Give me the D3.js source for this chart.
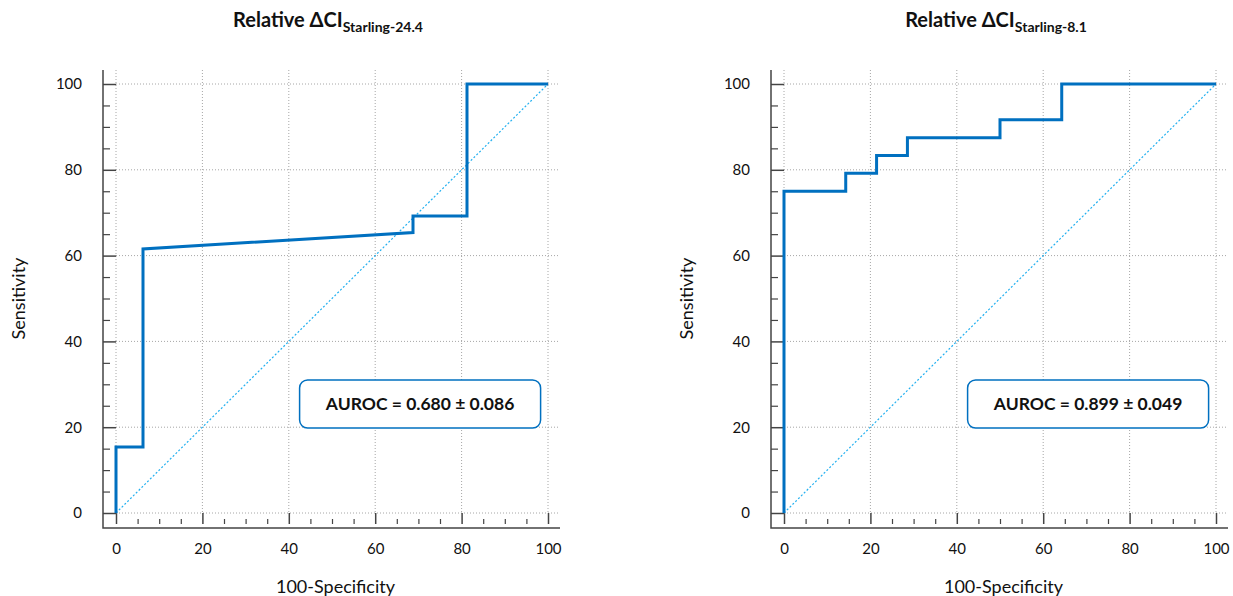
<!DOCTYPE html>
<html>
<head>
<meta charset="utf-8">
<script src="https://cdn.jsdelivr.net/npm/d3@7"></script>
<style>
  body { margin: 0; background: #fff; }
  text { font-family: Lato, "Open Sans", sans-serif; fill: #111; }
</style>
</head>
<body>
<div id="chart"></div>
<script>
// ROC curves (100-Specificity, Sensitivity)
const leftFpr = [0, 0, 6.25, 6.25, 68.75, 68.75, 81.25, 81.25, 100];
const leftTpr = [0, 15.38, 15.38, 61.54, 65.38, 69.23, 69.23, 100, 100];
const rightFpr = [0, 0, 14.29, 14.29, 21.43, 21.43, 28.57, 28.57, 50, 50, 64.29, 64.29, 100];
const rightTpr = [0, 75, 75, 79.17, 79.17, 83.33, 83.33, 87.5, 87.5, 91.67, 91.67, 100, 100];
const titles = ["Starling-24.4", "Starling-8.1"];
const aurocLabels = ["AUROC = 0.680 ± 0.086", "AUROC = 0.899 ± 0.049"];
const majorTicks = [0, 20, 40, 60, 80, 100];
const minorTicks = d3.range(0, 101, 5).filter(d => d % 20 !== 0);

const svgWidth = 1233;
const svgHeight = 596;

const svg = d3.select("#chart")
    .append("svg")
    .attr("width", svgWidth)
    .attr("height", svgHeight);

const blue = "#0070c0";
const gridColor = "#a6a6a6";

function drawRoc(left, fpr, tpr, sub, label) {
    const x = d3.scaleLinear().domain([0, 100]).range([left, left + 432]);
    const y = d3.scaleLinear().domain([0, 100]).range([513, 84]);
    const g = svg.append("g");

    const frameL = x(0) - 13, frameR = x(100) + 12, frameT = 70, frameB = 528;

    // grid
    g.selectAll(".vgrid")
        .data(majorTicks)
        .join("line")
        .attr("x1", d => x(d)).attr("x2", d => x(d))
        .attr("y1", frameT).attr("y2", y(0))
        .attr("stroke", gridColor)
        .attr("stroke-width", 1)
        .attr("stroke-dasharray", "1,2");
    g.selectAll(".hgrid")
        .data(majorTicks)
        .join("line")
        .attr("x1", x(0)).attr("x2", frameR)
        .attr("y1", d => y(d)).attr("y2", d => y(d))
        .attr("stroke", gridColor)
        .attr("stroke-width", 1)
        .attr("stroke-dasharray", "1,2");

    // frame (axis lines)
    g.append("path")
        .attr("d", `M${frameL},${frameT}V${frameB}H${frameR}`)
        .attr("fill", "none")
        .attr("stroke", "#444")
        .attr("stroke-width", 1.5);

    // y axis
    g.append("g")
        .attr("transform", `translate(${x(0)},0)`)
        .call(d3.axisLeft(y).tickValues(majorTicks).tickSize(13).tickPadding(21))
        .call(a => a.select(".domain").remove())
        .call(a => a.selectAll("line").attr("stroke", "#444").attr("stroke-width", 1.5))
        .call(a => a.selectAll("text").attr("font-size", 15).attr("fill", "#111")
            .style("font-family", "Lato, sans-serif"));
    g.append("g")
        .attr("transform", `translate(${frameL + 7},0)`)
        .call(d3.axisLeft(y).tickValues(minorTicks).tickSize(7).tickFormat(""))
        .call(a => a.select(".domain").remove())
        .call(a => a.selectAll("line").attr("stroke", "#444").attr("stroke-width", 1.2));

    // x axis
    g.append("g")
        .attr("transform", `translate(0,${y(0)})`)
        .call(d3.axisBottom(x).tickValues(majorTicks).tickSize(11).tickPadding(19))
        .call(a => a.select(".domain").remove())
        .call(a => a.selectAll("line").attr("stroke", "#444").attr("stroke-width", 1.5))
        .call(a => a.selectAll("text").attr("font-size", 15).attr("fill", "#111")
            .style("font-family", "Lato, sans-serif"));
    g.append("g")
        .attr("transform", `translate(0,${y(0) + 6})`)
        .call(d3.axisBottom(x).tickValues(minorTicks).tickSize(5).tickFormat(""))
        .call(a => a.select(".domain").remove())
        .call(a => a.selectAll("line").attr("stroke", "#444").attr("stroke-width", 1.2));

    // reference diagonal
    g.append("line")
        .attr("x1", x(0)).attr("y1", y(0))
        .attr("x2", x(100)).attr("y2", y(100))
        .attr("stroke", "#22b0f0")
        .attr("stroke-width", 1.2)
        .attr("stroke-dasharray", "2,2");

    // ROC curve
    const pts = fpr.map((f, i) => [f, tpr[i]]);
    g.append("path")
        .datum(pts)
        .attr("d", d3.line().x(d => x(d[0])).y(d => y(d[1])))
        .attr("fill", "none")
        .attr("stroke", blue)
        .attr("stroke-width", 3)
        .attr("stroke-linejoin", "miter");

    // AUROC box
    const bx = x(42.5), by = 380;
    g.append("rect")
        .attr("x", bx).attr("y", by)
        .attr("width", 241).attr("height", 48)
        .attr("rx", 8)
        .attr("fill", "#fff")
        .attr("stroke", blue)
        .attr("stroke-width", 1.5);
    g.append("text")
        .attr("x", bx + 120.5).attr("y", by + 30)
        .attr("text-anchor", "middle")
        .attr("font-size", 17.5)
        .attr("font-weight", "bold")
        .text(label);

    // title
    const t = g.append("text")
        .attr("x", x(50) - 4).attr("y", 27)
        .attr("text-anchor", "middle")
        .attr("font-size", 20)
        .attr("font-weight", "bold");
    t.append("tspan").text("Relative ΔCI");
    t.append("tspan").attr("font-size", 14).attr("dy", 5).text(sub);

    // axis labels
    g.append("text")
        .attr("x", x(50) + 3.5).attr("y", 593)
        .attr("text-anchor", "middle")
        .attr("font-size", 18)
        .text("100-Specificity");
    g.append("text")
        .attr("transform", `translate(${left - 91},${y(50)}) rotate(-90)`)
        .attr("text-anchor", "middle")
        .attr("font-size", 18)
        .text("Sensitivity");
}

drawRoc(116, leftFpr, leftTpr, titles[0], aurocLabels[0]);
drawRoc(784, rightFpr, rightTpr, titles[1], aurocLabels[1]);
</script>
</body>
</html>
